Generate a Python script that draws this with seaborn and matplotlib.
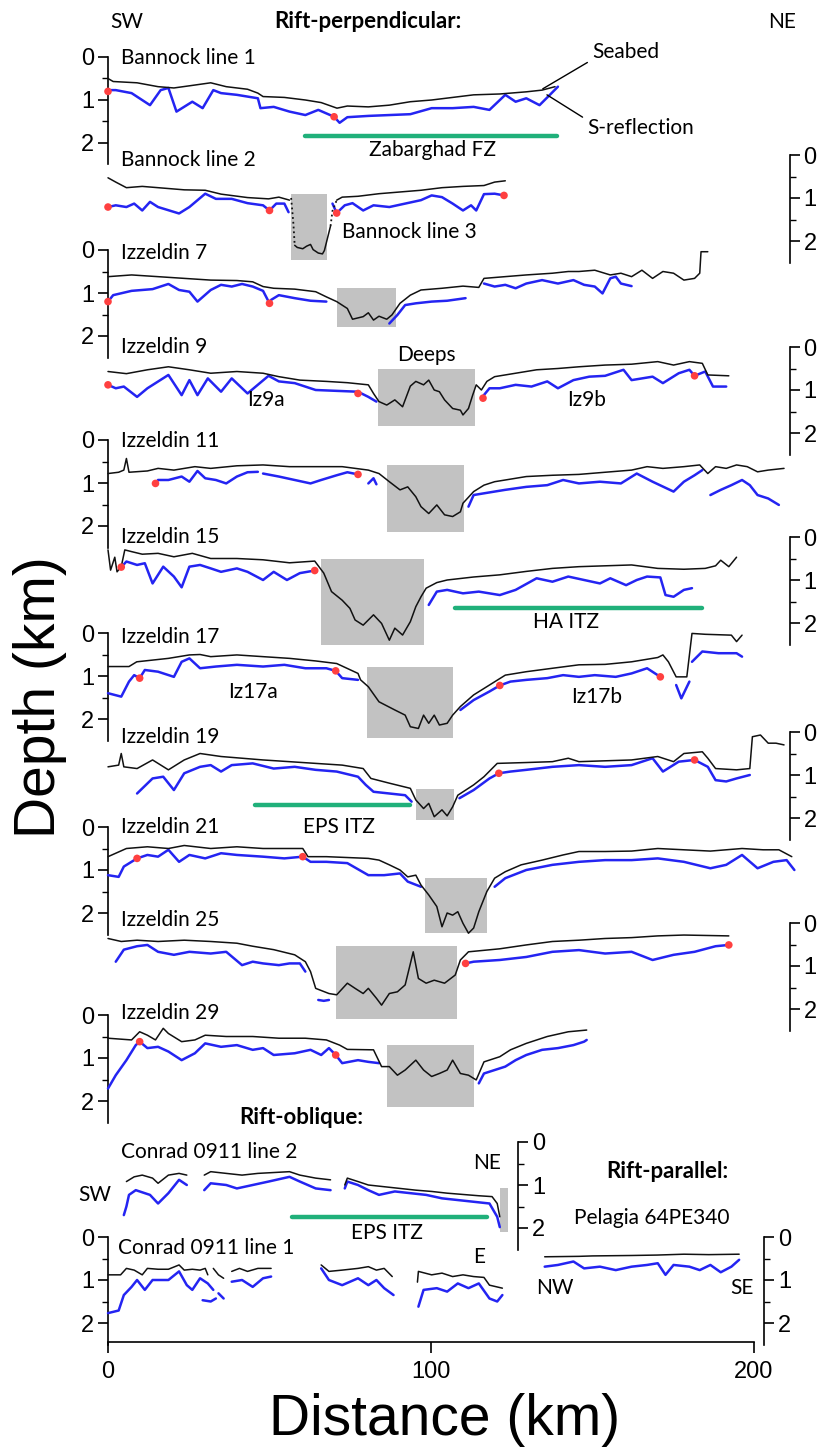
import matplotlib
matplotlib.use("Agg")
import matplotlib.pyplot as plt
import seaborn as sns

# ------------------------------------------------------------------ data
# distance along profile (km), depth below profile datum (km)
B1_SEABED = [[(0.0,0.50),(1.6,0.57),(9.0,0.60),(15.5,0.69),(20.4,0.72),(25.2,0.67),(31.8,0.60),(36.6,0.69),
              (43.2,0.75),(46.4,0.84),(48.0,0.92),(54.6,0.94),(61.1,1.00),(66.0,1.06),(70.9,1.19),(74.1,1.14),
              (80.6,1.16),(87.1,1.12),(93.6,1.04),(100.2,1.00),(106.7,0.94),(113.2,0.88),(121.3,0.86),
              (129.5,0.81),(134.4,0.77),(138.4,0.69)]]
B1_SREFL = [[(0.0,0.77),(2.4,0.77),(7.3,0.84),(13.0,1.12),(16.3,0.77),(18.7,0.72),(21.2,1.27),(26.1,1.04),
             (29.3,1.19),(32.6,0.77),(35.0,0.84),(39.9,0.88),(46.4,0.96),(47.2,1.19),(51.3,1.16),(56.2,1.27),
             (61.1,1.35),(65.1,1.23),(70.0,1.39),(71.7,1.53),(74.1,1.40),(80.6,1.37),(87.1,1.35),(93.6,1.33),
             (100.2,1.19),(106.7,1.19),(113.2,1.16),(118.1,1.23),(123.0,0.88),(126.2,1.04),(129.5,0.96),
             (133.6,1.12),(136.8,0.88),(139.3,0.69)]]
B1_DOTS = [(0.0,0.80),(70.0,1.39)]

B2_SEABED = [[(0.0,0.53),(2.4,0.63),(5.7,0.76),(10.6,0.73),(15.5,0.76),(23.6,0.81),(30.1,0.82),(35.0,0.91),
              (43.2,0.99),(49.7,1.02),(52.9,0.98),(56.2,1.05)],
             [(70.8,1.05),(72.5,0.98),(77.4,0.96),(83.9,0.90),(90.4,0.86),(96.9,0.82),(103.4,0.76),
              (109.9,0.73),(116.4,0.71),(119.7,0.63),(123.0,0.60)]]
B2_SREFL = [[(0.0,1.21),(2.4,1.17),(5.7,1.21),(8.1,1.13),(10.6,1.29),(13.0,1.09),(15.5,1.21),(22.0,1.36),
             (25.2,1.21),(30.1,0.90),(33.4,1.02),(38.3,1.02),(43.2,1.12),(48.0,1.17),(50.0,1.29),(52.1,1.13),
             (54.6,1.13),(55.9,1.33)],
            [(69.5,1.13),(70.8,1.35),(73.3,1.17),(75.7,1.12),(79.0,1.29),(82.2,1.17),(87.1,1.21),(92.0,1.13),
             (96.9,1.05),(100.2,0.94),(103.4,0.98),(106.7,1.13),(109.9,1.29),(112.4,1.17),(114.0,1.29),
             (116.4,0.91),(119.7,0.90),(122.6,0.94)]]
B2_DOTS = [(0.0,1.21),(50.0,1.29),(70.8,1.35),(122.6,0.94)]
B3_TROUGH = [(57.8,2.10),(58.6,2.15),(60.3,2.18),(61.5,2.12),(62.7,2.08),(63.5,2.20),(65.1,2.28),(66.4,2.30),
             (67.0,2.22),(68.9,1.65)]
B3_DOTTED = [[(56.7,1.00),(57.4,1.60),(57.8,2.10)],[(68.9,1.65),(69.5,1.30),(70.8,1.05)]]
B3_BOX = (56.7, 67.9, 0.90, 2.45)

IZ7_SEABED = [[(0.0,0.62),(7.3,0.58),(15.5,0.62),(23.6,0.66),(31.8,0.70),(39.9,0.71),(44.8,0.74),(48.0,0.85),
               (51.3,0.89),(57.8,0.91),(64.3,0.97),(67.6,1.09),(70.8,1.20),(74.1,1.36),(75.7,1.61),(79.0,1.55),
               (80.6,1.46),(82.2,1.63),(83.9,1.54),(86.3,1.61),(87.9,1.51),(90.4,1.24),(93.6,1.05),(96.9,0.93),
               (103.4,0.89),(109.9,0.84),(114.8,0.87),(116.4,0.66),(122.9,0.62),(129.5,0.58),(137.6,0.54),
               (142.5,0.50),(145.8,0.50),(150.7,0.47),(155.5,0.58),(158.8,0.54),(162.1,0.62),(165.3,0.47),
               (168.6,0.66),(171.8,0.50),(175.1,0.54),(178.3,0.70),(181.6,0.66),(183.2,0.54),(183.6,0.04),
               (185.7,0.04)]]
IZ7_SREFL = [[(0.0,1.20),(1.6,1.05),(7.3,0.95),(13.8,0.91),(18.7,0.79),(22.0,0.93),(25.2,0.97),(27.7,1.20),
              (31.8,0.93),(35.0,0.81),(38.3,0.85),(41.5,0.79),(44.8,0.85),(48.0,0.95),(50.0,1.24),(50.5,1.16),
              (52.9,1.05),(57.8,1.12),(62.7,1.18),(67.6,1.20)],
             [(87.1,1.71),(89.6,1.51),(92.0,1.28),(95.3,1.24),(100.2,1.20),(105.0,1.18),(110.7,1.12)],
             [(116.4,0.78),(119.7,0.85),(123.0,0.81),(126.2,0.89),(129.5,0.78),(134.4,0.70),(139.3,0.78),
              (144.1,0.70),(147.4,0.81),(150.7,0.85),(153.1,1.01),(155.5,0.66),(157.2,0.62),(158.8,0.78),
              (162.1,0.84)]]
IZ7_DOTS = [(0.0,1.20),(50.0,1.24)]
IZ7_BOX = (70.8, 89.1, 0.89, 1.80)

IZ9_SEABED = [[(0.0,0.57),(5.7,0.62),(12.2,0.53),(18.7,0.46),(25.2,0.53),(31.8,0.61),(39.9,0.57),(48.0,0.61),
               (52.9,0.69),(59.4,0.77),(67.6,0.80),(74.1,0.83),(80.6,0.88),(82.2,1.08),(83.9,1.27),(86.3,1.35),
               (88.8,1.23),(91.2,1.39),(93.6,0.91),(95.3,0.80),(97.7,0.88),(99.3,0.77),(101.0,1.00),
               (102.6,1.04),(104.2,1.23),(106.7,1.43),(109.1,1.47),(109.9,1.58),(111.6,1.43),(112.9,1.12),
               (114.0,0.88),(115.6,1.00),(117.3,0.80),(119.7,0.69),(126.2,0.61),(132.7,0.53),(139.3,0.50),
               (145.8,0.46),(153.9,0.42),(162.1,0.40),(170.2,0.34),(175.1,0.42),(180.0,0.34),(184.0,0.38),
               (185.7,0.65),(192.2,0.67)]]
IZ9_SREFL = [[(0.0,0.88),(2.4,0.96),(4.9,0.92),(9.0,1.16),(12.2,0.96),(18.7,0.65),(22.8,1.12),(25.2,0.77),
              (27.7,1.12),(30.9,0.73),(35.0,1.04),(38.3,0.73),(43.2,1.08),(49.7,0.67),(52.9,0.80),(57.8,0.84),
              (64.3,1.00),(70.8,1.02),(77.4,1.04),(80.6,1.16),(83.1,1.27)],
             [(115.6,1.19),(118.1,0.96),(121.3,0.96),(126.2,0.88),(131.1,0.92),(136.0,0.80),(139.3,0.96),
              (144.1,0.77),(149.0,0.69),(153.9,0.67),(159.6,0.53),(162.1,0.77),(168.6,0.69),(171.8,0.84),
              (176.7,0.61),(180.0,0.53),(181.6,0.67),(184.9,0.57),(187.3,0.92),(191.4,0.92)]]
IZ9_DOTS = [(0.0,0.88),(77.4,1.08),(116.1,1.19),(181.6,0.67)]
IZ9_BOX = (83.6, 113.5, 0.52, 1.83)

IZ11_SEABED = [[(0.0,0.78),(3.3,0.75),(4.9,0.70),(5.7,0.43),(6.5,0.75),(12.2,0.72),(15.5,0.66),(20.4,0.70),
                (26.9,0.62),(31.8,0.66),(39.9,0.60),(48.0,0.58),(56.2,0.62),(64.3,0.62),(72.5,0.62),(80.6,0.70),
                (83.9,0.78),(87.1,0.97),(90.4,1.16),(92.8,1.09),(95.3,1.32),(96.9,1.55),(99.3,1.71),
                (101.8,1.51),(104.2,1.74),(106.7,1.78),(109.1,1.67),(109.9,1.47),(113.2,1.20),(116.4,1.05),
                (119.7,0.97),(123.0,0.93),(129.5,0.85),(137.6,0.82),(145.8,0.80),(153.9,0.75),(162.1,0.70),
                (166.9,0.62),(171.8,0.66),(178.3,0.62),(183.2,0.58),(185.7,0.78),(188.1,0.62),(191.4,0.66),
                (194.6,0.58),(197.9,0.62),(201.1,0.74),(204.4,0.70),(209.3,0.66)]]
IZ11_SREFL = [[(14.7,1.01),(15.5,0.93),(18.7,0.93),(22.8,0.85),(25.2,0.97),(27.7,0.72),(30.1,0.89),(33.4,0.93),
               (36.6,1.01),(39.9,0.85),(43.2,0.75),(46.4,0.74)],
              [(48.0,0.78),(52.9,0.85),(57.8,0.93),(62.7,1.01),(66.0,0.93),(70.8,0.82),(74.1,0.75),(77.4,0.80)],
              [(80.6,1.01),(82.2,0.89),(83.1,1.03)],
              [(111.6,1.55),(113.2,1.28),(116.4,1.24),(122.9,1.16),(129.5,1.09),(136.0,1.05),(140.9,0.93),
               (145.8,1.01),(152.3,0.97),(158.8,1.01),(163.7,0.78),(168.6,0.97),(175.1,1.20),(178.3,0.97),
               (181.6,0.82),(184.0,0.70)],
              [(186.5,1.28),(189.7,1.16),(193.0,1.05),(196.3,0.93),(198.7,1.05),(201.1,1.28),(204.4,1.36),
               (207.7,1.51)]]
IZ11_DOTS = [(14.7,1.01),(77.4,0.80)]
IZ11_BOX = (86.3, 110.3, 0.58, 2.15)

IZ15_SEABED = [[(0.0,0.30),(0.8,0.77),(2.1,0.47),(2.8,0.81),(4.1,0.69),(5.2,0.30),(7.3,0.34),(10.6,0.40),
                (15.5,0.38),(20.4,0.46),(26.1,0.38),(31.8,0.50),(39.9,0.50),(48.0,0.53),(56.2,0.60),(64.0,0.56),
                (66.8,0.84),(69.2,1.27),(72.5,1.47),(74.9,1.66),(76.5,1.93),(79.0,2.05),(82.2,1.81),(84.7,2.01),
                (87.1,2.40),(88.8,2.12),(91.2,2.28),(93.6,1.97),(95.3,1.62),(96.9,1.39),(98.5,1.19),
                (101.8,1.06),(105.0,1.00),(113.2,0.93),(121.3,0.88),(129.5,0.80),(137.6,0.73),(145.8,0.69),
                (153.9,0.67),(162.1,0.65),(170.2,0.73),(178.3,0.75),(184.9,0.73),(188.1,0.67),(189.7,0.54),
                (192.2,0.69),(194.6,0.47)]]
IZ15_SREFL = [[(4.1,0.70),(5.7,0.57),(9.0,0.65),(11.4,0.61),(13.8,1.08),(17.1,0.69),(20.4,0.92),(22.8,1.17),
               (25.2,0.69),(28.5,0.65),(31.8,0.73),(35.0,0.81),(39.9,0.73),(43.2,0.81),(48.0,1.00),(51.3,0.81),
               (55.4,1.00),(59.4,0.84),(64.0,0.78)],
              [(99.3,1.58),(101.8,1.27),(105.0,1.23),(109.9,1.31),(114.8,1.27),(121.3,1.35),(126.2,1.23),
               (132.7,0.96),(137.6,1.04),(142.5,0.92),(147.4,1.00),(152.3,1.08),(155.5,0.96),(160.4,1.12),
               (163.7,1.00),(166.9,0.92),(171.0,0.94),(172.6,1.35),(175.1,1.39),(178.3,1.23),(180.8,1.19)]]
IZ15_DOTS = [(4.1,0.70),(64.0,0.78)]
IZ15_BOX = (66.0, 97.7, 0.50, 2.50)

IZ17_SEABED = [[(0.0,0.78),(6.5,0.78),(8.9,0.67),(13.8,0.63),(18.7,0.59),(25.2,0.51),(28.5,0.50),(31.8,0.55),
                (39.9,0.51),(48.0,0.55),(56.2,0.59),(64.3,0.65),(70.8,0.71),(77.4,0.94),(78.2,1.09),(80.6,1.25),
                (83.9,1.60),(88.8,1.79),(92.0,1.91),(93.6,2.18),(96.1,2.22),(97.7,1.91),(99.3,2.10),(101.0,1.91),
                (102.6,2.14),(105.0,2.10),(106.7,1.91),(109.1,1.71),(113.2,1.44),(118.1,1.21),(123.0,0.98),
                (129.5,0.90),(137.6,0.82),(145.8,0.74),(153.9,0.73),(162.1,0.67),(170.2,0.57),(171.8,0.51),
                (173.5,0.67),(175.9,1.02),(179.2,1.02),(180.8,0.01),(184.9,0.03),(193.0,0.05),(194.6,0.20),
                (196.3,0.05)]]
IZ17_SREFL = [[(0.0,1.40),(4.1,1.48),(6.5,1.13),(8.1,0.98),(9.8,1.05),(11.4,0.86),(15.5,0.90),(20.4,1.02),
               (22.8,0.67),(25.2,0.59),(28.5,0.82),(33.4,0.78),(39.9,0.74),(48.0,0.78),(54.6,0.74),(61.1,0.82),
               (67.6,0.82),(70.5,0.88),(72.5,1.05),(77.4,1.09)],
              [(109.1,1.79),(113.2,1.56),(118.1,1.36),(121.3,1.22),(124.6,1.13),(129.5,1.09),(136.0,1.05),
               (140.9,0.98),(145.8,1.02),(150.7,0.98),(157.2,1.02),(162.1,0.94),(166.9,0.82),(171.0,1.02)],
              [(175.9,1.21),(177.5,1.52),(180.0,1.13)],
              [(180.8,0.67),(184.0,0.43),(189.0,0.47),(194.6,0.47),(196.3,0.55)]]
IZ17_DOTS = [(9.8,1.05),(70.5,0.88),(121.3,1.22),(171.0,1.02)]
IZ17_BOX = (80.1, 106.7, 0.78, 2.45)

IZ19_SEABED = [[(0.0,0.81),(3.3,0.77),(4.1,0.50),(4.9,0.81),(9.0,0.85),(13.8,0.65),(18.7,0.88),(23.6,0.65),
                (28.5,0.50),(35.0,0.57),(41.5,0.61),(48.0,0.65),(56.2,0.69),(64.3,0.73),(72.5,0.77),(79.0,0.85),
                (81.4,1.08),(87.1,1.19),(93.6,1.31),(95.3,1.58),(97.7,1.78),(99.3,1.66),(101.0,1.97),
                (103.4,1.81),(105.0,1.95),(106.7,1.74),(108.3,1.47),(113.2,1.23),(116.4,1.04),(120.5,0.73),
                (129.5,0.71),(137.6,0.69),(142.5,0.61),(145.8,0.69),(153.9,0.67),(162.1,0.65),(170.2,0.57),
                (175.1,0.69),(178.3,0.50),(184.0,0.46),(185.7,0.61),(188.1,0.85),(194.6,0.88),(198.7,0.85),
                (199.5,0.11),(202.0,0.07),(204.4,0.26),(206.8,0.26),(209.3,0.30)]]
IZ19_SREFL = [[(9.0,1.43),(13.8,1.08),(17.1,1.04),(20.4,1.35),(23.6,0.96),(28.5,0.81),(31.8,0.77),(35.0,0.92),
               (38.3,0.77),(44.8,0.73),(51.3,0.85),(57.8,0.81),(64.3,0.88),(70.8,0.92),(77.4,1.04),(79.8,1.23),
               (82.2,1.39),(87.1,1.43),(92.0,1.47),(94.0,1.62)],
              [(108.8,1.54),(113.2,1.35),(118.1,1.08),(121.0,0.96),(124.6,0.92),(129.5,0.88),(137.6,0.81),
               (145.8,0.77),(153.9,0.81),(162.1,0.77),(168.6,0.61),(171.8,0.92),(176.7,0.69),(181.6,0.65),
               (185.7,0.81),(188.1,1.12),(191.4,1.15),(194.6,1.08),(198.7,1.00)]]
IZ19_DOTS = [(121.0,0.96),(181.6,0.65)]
IZ19_BOX = (95.3, 107.0, 1.33, 2.05)

IZ21_SEABED = [[(0.0,0.69),(5.7,0.50),(12.2,0.46),(18.7,0.50),(23.6,0.43),(31.8,0.50),(39.9,0.46),(48.0,0.50),
                (60.3,0.50),(61.9,0.69),(67.6,0.69),(74.1,0.71),(80.6,0.73),(83.9,0.77),(87.1,0.88),(90.4,1.00),
                (92.8,1.16),(95.3,1.12),(96.9,1.35),(99.3,1.58),(101.8,1.85),(103.4,2.32),(105.0,2.00),
                (106.7,2.05),(108.3,1.97),(109.9,2.24),(111.6,2.47),(113.2,2.35),(114.8,1.97),(117.3,1.50),
                (119.7,1.19),(123.0,1.04),(127.9,0.88),(134.4,0.77),(140.9,0.65),(145.8,0.57),(153.9,0.57),
                (162.1,0.56),(170.2,0.50),(178.3,0.53),(186.5,0.56),(196.3,0.50),(202.8,0.53),(207.7,0.53),
                (211.7,0.69)]]
IZ21_SREFL = [[(0.0,1.12),(3.3,1.16),(4.9,0.92),(9.0,0.73),(12.2,0.65),(15.5,0.69),(18.7,0.53),(22.0,0.81),
               (25.2,0.65),(30.1,0.73),(35.0,0.61),(39.9,0.65),(48.0,0.69),(54.6,0.73),(60.3,0.69),(62.7,0.81),
               (67.6,0.81),(74.1,0.84),(80.6,1.12),(85.5,1.12),(90.4,1.08),(92.8,1.27),(96.9,1.39)],
              [(119.7,1.39),(123.0,1.19),(129.5,1.00),(137.6,0.88),(145.8,0.81),(153.9,0.77),(162.1,0.77),
               (170.2,0.73),(178.3,0.81),(186.5,0.96),(191.4,0.88),(196.3,0.65),(201.1,0.96),(206.0,0.81),
               (210.1,0.77),(212.5,1.00)]]
IZ21_DOTS = [(9.0,0.73),(60.3,0.69)]
IZ21_BOX = (98.2, 117.3, 1.18, 2.47)

IZ25_SEABED = [[(0.0,0.36),(4.1,0.43),(9.0,0.40),(15.5,0.43),(23.6,0.40),(31.8,0.43),(39.9,0.47),(44.8,0.54),
                (51.3,0.62),(57.8,0.74),(61.1,0.90),(62.7,1.13),(64.3,1.52),(68.4,1.64),(70.8,1.67),(74.1,1.40),
                (76.5,1.52),(79.0,1.64),(80.6,1.52),(83.1,1.75),(84.7,1.91),(87.1,1.64),(89.6,1.60),(92.0,1.44),
                (94.5,0.67),(96.1,1.29),(98.5,1.40),(101.0,1.33),(104.2,1.40),(107.5,1.21),(109.1,0.86),
                (111.6,0.67),(121.3,0.60),(129.5,0.51),(137.6,0.43),(145.8,0.40),(153.9,0.36),(162.1,0.34),
                (170.2,0.30),(178.3,0.28),(192.2,0.30)]]
IZ25_SREFL = [[(2.4,0.90),(4.9,0.62),(9.0,0.54),(12.2,0.51),(15.5,0.67),(20.4,0.74),(25.2,0.67),(31.8,0.71),
               (36.6,0.67),(41.5,0.98),(44.8,0.90),(48.0,0.94),(52.9,0.98),(56.2,0.94),(59.4,0.94),(61.1,1.13)],
              [(65.1,1.79),(66.8,1.81),(68.4,1.79)],
              [(110.7,0.94),(113.2,0.90),(121.3,0.86),(129.5,0.79),(137.6,0.67),(145.8,0.63),(153.9,0.71),
               (162.1,0.67),(168.6,0.86),(175.1,0.74),(181.6,0.67),(188.1,0.54),(192.2,0.51)]]
IZ25_DOTS = [(110.7,0.94),(192.2,0.51)]
IZ25_BOX = (70.5, 108.0, 0.54, 2.24)

IZ29_SEABED = [[(0.0,0.54),(7.3,0.58),(9.8,0.39),(12.2,0.47),(14.7,0.58),(17.1,0.31),(18.7,0.43),(22.8,0.62),
                (26.9,0.58),(30.1,0.47),(36.6,0.50),(44.8,0.50),(52.9,0.54),(61.1,0.54),(67.6,0.58),(71.7,0.70),
                (74.1,0.80),(82.2,0.81),(84.7,1.20),(87.1,1.20),(89.6,1.40),(92.0,1.28),(95.3,1.05),(97.7,1.28),
                (100.2,1.43),(102.6,1.36),(105.0,1.28),(106.7,1.05),(109.1,1.36),(111.6,1.40),(114.0,1.51),
                (116.4,1.09),(121.3,0.97),(124.6,0.81),(129.5,0.66),(136.0,0.50),(142.5,0.39),(148.2,0.35)]]
IZ29_SREFL = [[(0.0,1.71),(2.4,1.40),(5.7,1.05),(8.6,0.70),(9.8,0.62),(12.2,0.77),(15.5,0.74),(18.7,0.85),
               (22.8,1.05),(26.9,0.89),(30.1,0.66),(35.0,0.74),(39.9,0.70),(44.8,0.81),(48.0,0.77),(51.3,0.93),
               (57.8,0.89),(62.7,0.81),(66.0,0.93),(68.4,0.77),(70.5,0.93),(72.5,1.12),(77.4,1.05),(80.6,1.09),
               (83.9,1.12)],
              [(114.8,1.59),(116.4,1.36),(119.7,1.28),(123.0,1.20),(126.2,1.05),(129.5,0.93),(134.4,0.81),
               (139.3,0.77),(144.1,0.70),(147.4,0.62),(148.2,0.58)]]
IZ29_DOTS = [(9.8,0.62),(70.5,0.93)]
IZ29_BOX = (86.3, 113.2, 0.70, 2.13)

C2_SEABED = [[(5.7,0.92),(8.1,0.81),(10.6,0.77),(13.8,0.84),(15.5,0.96),(18.7,0.77),(22.0,0.73),(24.4,0.77)],
             [(29.8,0.77),(31.8,0.69),(36.6,0.73),(41.5,0.77),(46.4,0.73),(51.3,0.71),(56.2,0.69),(59.4,0.77),
              (64.3,0.84),(68.9,0.88)],
             [(73.3,1.00),(74.1,0.84),(77.4,0.92),(80.6,1.00),(85.5,1.04),(90.4,1.08),(95.3,1.12),(100.2,1.15),
              (105.0,1.19),(109.9,1.22),(114.8,1.25),(118.9,1.27),(120.5,1.43),(121.3,1.74)]]
C2_SREFL = [[(4.9,1.70),(5.7,1.50),(6.5,1.23),(8.6,1.12),(13.0,1.23),(15.5,1.43),(18.7,1.19),(22.0,0.88),
             (24.4,1.00)],
            [(29.8,1.12),(31.8,0.96),(36.6,1.00),(39.9,1.08),(44.8,1.00),(49.7,0.92),(56.2,0.81),(59.4,0.92),
             (64.3,1.08),(68.9,1.12)],
            [(73.3,1.08),(74.1,0.92),(77.4,1.00),(80.6,1.12),(83.9,1.23),(88.8,1.15),(93.6,1.19),(98.5,1.23),
             (103.4,1.31),(108.3,1.35),(113.2,1.39),(118.1,1.43),(120.5,1.74),(121.3,1.98)]]
C2_BOX = (121.3, 123.8, 1.07, 2.10)

C1_SEABED = [[(0.0,0.88),(3.9,0.88),(5.7,0.73),(8.1,0.77),(10.6,0.88),(12.2,0.73),(15.5,0.75),(18.7,0.75),
              (22.0,0.65),(23.6,0.77),(26.1,0.75),(28.5,0.77),(30.1,0.73),(30.9,0.88)],
             [(32.6,0.73),(34.2,0.88),(35.8,0.96)],
             [(38.3,0.80),(40.7,0.73),(43.2,0.80),(46.4,0.73),(50.5,0.73)],
             [(66.0,0.65),(68.4,0.80),(72.5,0.77),(77.4,0.73),(80.6,0.69),(83.1,0.77),(85.5,0.73),(88.0,0.92)],
             [(95.8,1.05),(96.1,0.80),(100.2,0.88),(103.4,0.84),(106.7,0.92),(109.9,0.88),(113.2,0.92),
              (116.4,0.94),(118.1,1.12),(122.1,1.19)]]
C1_SREFL = [[(0.0,1.77),(3.3,1.71),(4.9,1.35),(7.3,1.16),(9.0,1.00),(11.4,1.23),(13.8,1.00),(18.7,1.00),
             (22.0,0.80),(24.4,1.12),(26.1,1.23),(28.5,0.96),(30.9,1.08),(32.6,1.23)],
            [(29.3,1.47),(31.8,1.50),(33.4,1.43)],
            [(34.2,1.31),(35.8,1.43)],
            [(38.3,1.04),(41.5,1.00),(44.8,1.16),(48.0,0.96),(50.5,0.92)],
            [(66.0,0.73),(68.4,1.00),(72.5,1.12),(77.4,0.96),(80.6,1.12),(83.1,1.00),(85.5,1.19),(88.4,1.35)],
            [(96.1,1.62),(97.7,1.23),(101.8,1.19),(105.0,1.27),(108.3,1.08),(111.6,1.19),(114.8,1.08),
             (118.1,1.43),(120.5,1.50),(122.1,1.35)]]

PE_SEABED = [[(135.2,0.46),(145.8,0.45),(150.0,0.44),(162.1,0.43),(170.0,0.42),(178.3,0.40),(186.0,0.41),
              (195.4,0.40)]]
PE_SREFL = [[(135.2,0.69),(139.3,0.65),(144.1,0.57),(147.4,0.73),(152.3,0.69),(157.2,0.77),(162.1,0.69),
             (166.9,0.65),(170.2,0.61),(172.6,0.88),(175.1,0.65),(180.0,0.69),(183.2,0.77),(186.5,0.65),
             (189.7,0.82),(193.0,0.69),(195.4,0.53)]]

# zones (green bars): start km, end km, depth
ZABARGHAD_FZ = (61.1, 139.0, 1.83)
HA_ITZ = (107.5, 184.0, 1.64)
EPS_ITZ_19 = (45.6, 93.6, 1.70)
EPS_ITZ_C2 = (57.0, 117.3, 1.74)

X_TICKS = [0, 100, 200]
DEPTH_TICKS = [0, 1, 2]

# ------------------------------------------------------------------ style
sns.set_theme(style="ticks")
plt.rcParams['font.family'] = ['Liberation Sans', 'DejaVu Sans']
plt.rcParams.update({'text.color': 'black', 'xtick.color': 'black', 'ytick.color': 'black',
                     'axes.edgecolor': 'black', 'axes.labelcolor': 'black'})
LBL = ['Lato', 'DejaVu Sans']
LFS = 15          # profile label size
BFS = 16          # bold heading size

BLACK = '#111111'
BLUE = '#2424f2'
RED = '#ff4040'
GREY = '#c2c2c2'
GREEN = '#20b07a'

W, H = 832, 1451
fig = plt.figure(figsize=(W / 100, H / 100), dpi=100)
X0PX, PXKM, KPX = 108.0, 3.23, 43.0
XMIN, XMAX = -X0PX / PXKM, (W - X0PX) / PXKM
YAXIS_PX = 1342


def fx(px):
    return px / W


def fy(py):
    return 1 - py / H


# base axes with the distance axis
base = fig.add_axes([0, fy(YAXIS_PX), 1, 0.02])
base.patch.set_alpha(0)
base.set_xlim(XMIN, XMAX)
for s in ['top', 'right', 'left']:
    base.spines[s].set_visible(False)
base.spines['bottom'].set_bounds(0, 200)
base.spines['bottom'].set_linewidth(1.2)
base.set_yticks([])
base.set_xticks(X_TICKS)
base.set_xticklabels([str(t) for t in X_TICKS])
base.tick_params(axis='x', direction='out', length=8, width=1.2, labelsize=17, pad=6)


def make_axes(y0):
    ax = fig.add_axes([0, 0, 1, 1])
    ax.patch.set_alpha(0)
    for s in ax.spines.values():
        s.set_visible(False)
    ax.set_xticks([])
    ax.set_yticks([])
    ax._y0 = y0
    return ax


def fix_limits(ax):
    ax.set_xlim(XMIN, XMAX)
    ax.set_ylim((H - ax._y0) / KPX, -ax._y0 / KPX)
    ax.set_xlabel('')
    ax.set_ylabel('')


def add_scale(ax, xpos, side):
    sp = ax.spines[side]
    sp.set_visible(True)
    sp.set_position(('data', xpos))
    sp.set_bounds(0, 2.5)
    sp.set_linewidth(1.2)
    if side == 'left':
        ax.yaxis.tick_left()
    else:
        ax.yaxis.tick_right()
    ax.set_yticks(DEPTH_TICKS)
    ax.set_yticklabels([str(t) for t in DEPTH_TICKS])
    ax.set_yticks([0.5, 1.5], minor=True)
    ax.tick_params(axis='y', which='major', direction='out', length=7, width=1.2, labelsize=17, pad=3)
    ax.tick_params(axis='y', which='minor', direction='out', length=4, width=1.0)


def lines(ax, segs, color, lw, ls='-', z=3):
    for seg in segs:
        xs = [p[0] for p in seg]
        ds = [p[1] for p in seg]
        sns.lineplot(x=xs, y=ds, ax=ax, color=color, linewidth=lw, linestyle=ls,
                     sort=False, estimator=None, errorbar=None, zorder=z)


def dots(ax, pts):
    sns.scatterplot(x=[p[0] for p in pts], y=[p[1] for p in pts], ax=ax, color=RED,
                    s=30, edgecolor='none', zorder=6)


def box(ax, b):
    ax.fill_between([b[0], b[1]], b[2], b[3], color=GREY, lw=0, zorder=1)


def zone(ax, z):
    sns.lineplot(x=[z[0], z[1]], y=[z[2], z[2]], ax=ax, color=GREEN, linewidth=3.2,
                 sort=False, estimator=None, errorbar=None, zorder=2)


def label(ax, x, d, s, **kw):
    kw.setdefault('fontsize', LFS)
    kw.setdefault('ha', 'left')
    kw.setdefault('va', 'center')
    ax.text(x, d, s, family=LBL, **kw)


PROFILES = [
    dict(name='Bannock line 1', y0=57, side='left', sx=0.0, lab=0.02,
         sea=B1_SEABED, sr=B1_SREFL, pts=B1_DOTS, box=None),
    dict(name='Bannock line 2', y0=155, side='right', sx=211.0, lab=0.12,
         sea=B2_SEABED, sr=B2_SREFL, pts=B2_DOTS, box=B3_BOX),
    dict(name='Izzeldin 7', y0=250, side='left', sx=0.0, lab=0.07,
         sea=IZ7_SEABED, sr=IZ7_SREFL, pts=IZ7_DOTS, box=IZ7_BOX),
    dict(name='Izzeldin 9', y0=347, side='right', sx=211.0, lab=0.0,
         sea=IZ9_SEABED, sr=IZ9_SREFL, pts=IZ9_DOTS, box=IZ9_BOX),
    dict(name='Izzeldin 11', y0=440, side='left', sx=0.0, lab=0.02,
         sea=IZ11_SEABED, sr=IZ11_SREFL, pts=IZ11_DOTS, box=IZ11_BOX),
    dict(name='Izzeldin 15', y0=537, side='right', sx=211.0, lab=0.0,
         sea=IZ15_SEABED, sr=IZ15_SREFL, pts=IZ15_DOTS, box=IZ15_BOX),
    dict(name='Izzeldin 17', y0=633, side='left', sx=0.0, lab=0.1,
         sea=IZ17_SEABED, sr=IZ17_SREFL, pts=IZ17_DOTS, box=IZ17_BOX),
    dict(name='Izzeldin 19', y0=732, side='right', sx=211.0, lab=0.12,
         sea=IZ19_SEABED, sr=IZ19_SREFL, pts=IZ19_DOTS, box=IZ19_BOX),
    dict(name='Izzeldin 21', y0=827, side='left', sx=0.0, lab=0.0,
         sea=IZ21_SEABED, sr=IZ21_SREFL, pts=IZ21_DOTS, box=IZ21_BOX),
    dict(name='Izzeldin 25', y0=923, side='right', sx=211.0, lab=-0.07,
         sea=IZ25_SEABED, sr=IZ25_SREFL, pts=IZ25_DOTS, box=IZ25_BOX),
    dict(name='Izzeldin 29', y0=1015, side='left', sx=0.0, lab=-0.05,
         sea=IZ29_SEABED, sr=IZ29_SREFL, pts=IZ29_DOTS, box=IZ29_BOX),
    dict(name='Conrad 0911 line 2', y0=1142, side='right', sx=127.0, lab=0.23,
         sea=C2_SEABED, sr=C2_SREFL, pts=None, box=C2_BOX),
    dict(name='Conrad 0911 line 1', y0=1237, side='left', sx=0.0, lab=0.26,
         sea=C1_SEABED, sr=C1_SREFL, pts=None, box=None),
    dict(name='Pelagia 64PE340', y0=1237, side='right', sx=203.1, lab=None,
         sea=PE_SEABED, sr=PE_SREFL, pts=None, box=None),
]

AX = {}
for p in PROFILES:
    ax = make_axes(p['y0'])
    AX[p['name']] = ax
    if p['box'] is not None:
        box(ax, p['box'])
    lines(ax, p['sr'], BLUE, 1.8)
    lines(ax, p['sea'], BLACK, 1.1)
    if p['pts']:
        dots(ax, p['pts'])
    if p['lab'] is not None:
        label(ax, 4.0 if 'Conrad 0911 line 1' != p['name'] else 3.1, p['lab'], p['name'])
    fix_limits(ax)
    add_scale(ax, p['sx'], p['side'])

# Bannock line 3 trough
ax = AX['Bannock line 2']
lines(ax, [B3_TROUGH], BLACK, 1.1)
lines(ax, B3_DOTTED, BLACK, 1.3, ls=':')
label(ax, 72.5, 1.79, 'Bannock line 3')
fix_limits(ax)

# Bannock line 1 annotations
ax = AX['Bannock line 1']
zone(ax, ZABARGHAD_FZ)
label(ax, 100.6, 2.16, 'Zabarghad FZ', ha='center')
ax.annotate('Seabed', xy=(134.6, 0.74), xytext=(149.8, -0.12), family=LBL, fontsize=LFS,
            ha='left', va='center',
            arrowprops=dict(arrowstyle='-', color='black', lw=1.0, shrinkA=1, shrinkB=0, relpos=(0.0, 0.1)))
ax.annotate('S-reflection', xy=(135.9, 0.88), xytext=(148.3, 1.65), family=LBL, fontsize=LFS,
            ha='left', va='center',
            arrowprops=dict(arrowstyle='-', color='black', lw=1.0, shrinkA=1, shrinkB=0, relpos=(0.0, 0.9)))
fix_limits(ax)

ax = AX['Izzeldin 9']
label(ax, 98.5, 0.19, 'Deeps', ha='center')
label(ax, 49.0, 1.23, 'Iz9a', ha='center')
label(ax, 148.3, 1.23, 'Iz9b', ha='center')

ax = AX['Izzeldin 15']
zone(ax, HA_ITZ)
label(ax, 141.8, 1.98, 'HA ITZ', ha='center')
fix_limits(ax)

ax = AX['Izzeldin 17']
label(ax, 45.0, 1.37, 'Iz17a', ha='center')
label(ax, 151.4, 1.49, 'Iz17b', ha='center')

ax = AX['Izzeldin 19']
zone(ax, EPS_ITZ_19)
label(ax, 71.5, 2.21, 'EPS ITZ', ha='center')
fix_limits(ax)

ax = AX['Conrad 0911 line 2']
zone(ax, EPS_ITZ_C2)
label(ax, 86.4, 2.12, 'EPS ITZ', ha='center')
label(ax, -4.0, 1.23, 'SW', ha='center')
label(ax, 117.3, 0.49, 'NE', ha='center')
fix_limits(ax)

ax = AX['Conrad 0911 line 1']
label(ax, 114.9, 0.46, 'E', ha='center')

ax = AX['Pelagia 64PE340']
label(ax, 144.3, -0.44, 'Pelagia 64PE340')
label(ax, 138.4, 1.19, 'NW', ha='center')
label(ax, 196.3, 1.19, 'SE', ha='center')

# headings
fig.text(fx(127), fy(22), 'SW', family=LBL, fontsize=LFS, ha='center', va='center')
fig.text(fx(368), fy(22), 'Rift-perpendicular:', family=LBL, fontsize=BFS, fontweight='bold',
         ha='center', va='center')
fig.text(fx(782), fy(22), 'NE', family=LBL, fontsize=LFS, ha='center', va='center')
fig.text(fx(301), fy(1118), 'Rift-oblique:', family=LBL, fontsize=BFS, fontweight='bold',
         ha='center', va='center')
fig.text(fx(667), fy(1172), 'Rift-parallel:', family=LBL, fontsize=BFS, fontweight='bold',
         ha='center', va='center')

# axis titles
fig.text(fx(40), fy(697), 'Depth (km)', fontsize=41, rotation=90, ha='center', va='center')
fig.text(fx(445), fy(1420), 'Distance (km)', fontsize=41, ha='center', va='center')

fig.savefig('out.png', dpi=100)
